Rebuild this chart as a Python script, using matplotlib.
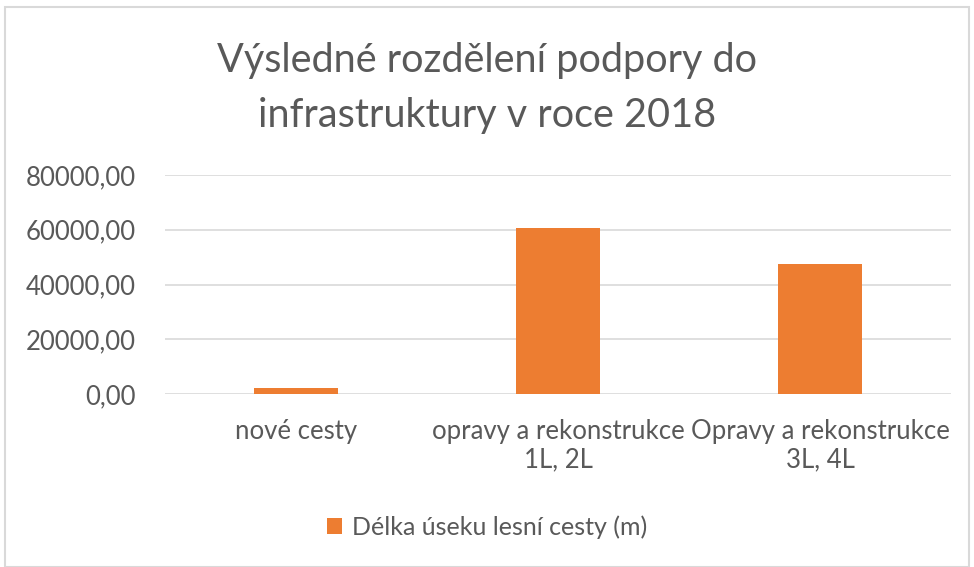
import matplotlib.pyplot as plt
from matplotlib.patches import Rectangle

categories = ["nové cesty", "opravy a rekonstrukce\n1L, 2L", "Opravy a rekonstrukce\n3L, 4L"]
delka = [2300.0, 60500.0, 47400.0]
series_name = "Délka úseku lesní cesty (m)"
title = "Výsledné rozdělení podpory do\ninfrastruktury v roce 2018"

plt.rcParams['font.family'] = ['Lato', 'DejaVu Sans']
grey = '#595959'
orange = '#ED7D31'

fig = plt.figure(figsize=(9.74, 5.67), dpi=100)
fig.patches.append(Rectangle((0.005, 0.0), 0.99, 0.988, transform=fig.transFigure,
                             fill=False, edgecolor='#d9d9d9', linewidth=1.5))

ax = fig.add_axes([165 / 974, 1 - 394 / 567, 786 / 974, 219 / 567])
x = range(len(categories))
ax.bar(x, delka, width=0.32, color=orange, zorder=3, label=series_name)

ax.set_ylim(0, 80000)
ax.set_xlim(-0.5, 2.5)
ax.set_yticks([0, 20000, 40000, 60000, 80000])
ax.set_yticklabels([f"{v:.2f}".replace('.', ',') for v in [0, 20000, 40000, 60000, 80000]])
ax.set_xticks(list(x))
ax.set_xticklabels(categories, linespacing=1.15)
ax.grid(axis='y', color='#d9d9d9', linewidth=1.2, zorder=0)
for s in ax.spines.values():
    s.set_visible(False)
ax.tick_params(length=0, labelsize=18.5, labelcolor=grey)
ax.tick_params(axis='y', pad=21)
ax.tick_params(axis='x', pad=18)

fig.text(0.5, 1 - 88 / 567, title, ha='center', va='center', fontsize=28.5, color=grey,
         linespacing=1.6)

fig.legend(loc='center', bbox_to_anchor=(0.5, 1 - 527 / 567), frameon=False,
           fontsize=18, labelcolor=grey, handlelength=0.6, handleheight=0.6,
           handletextpad=0.4)

fig.savefig('out.png', dpi=100)
